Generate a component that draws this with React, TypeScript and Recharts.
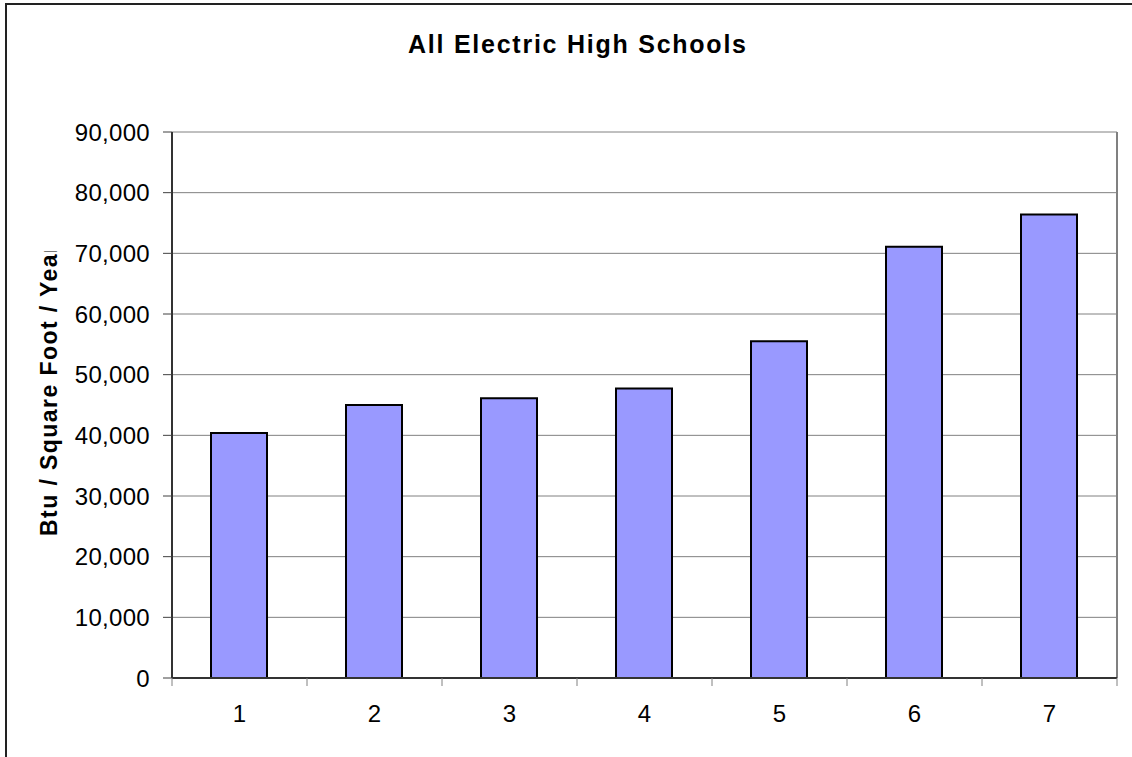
import React from 'react'
import { BarChart, Bar, XAxis, YAxis, CartesianGrid, ReferenceLine } from 'recharts'

const categories = ['1', '2', '3', '4', '5', '6', '7']
const energyUse = [40400, 45000, 46100, 47700, 55500, 71100, 76400]
const yTicks = [0, 10000, 20000, 30000, 40000, 50000, 60000, 70000, 80000, 90000]

const chartTitle = 'All Electric High Schools'
const yLabel = 'Btu / Square Foot / Year'

const FONT = "'Liberation Sans', Arial, sans-serif"

// bars sit at the middle of each unit slot, tick marks on the slot edges
const data = categories.map((c, i) => ({ pos: i + 0.5, label: c, value: energyUse[i] }))
const xTicks: number[] = []
for (let i = 0; i <= categories.length * 2; i++) xTicks.push(i / 2)

function XTick({ x, y, payload }: any) {
  const v = payload.value as number
  if (Number.isInteger(v)) {
    return <line x1={x} y1={y} x2={x} y2={y + 8} stroke="#808080" strokeWidth={1} />
  }
  return (
    <text x={x} y={y + 44} textAnchor="middle" fontFamily={FONT} fontSize={24} fill="#000">
      {categories[Math.floor(v)]}
    </text>
  )
}

function YTick({ x, y, payload }: any) {
  return (
    <text
      x={x}
      y={y}
      dy="0.36em"
      textAnchor="end"
      fontFamily={FONT}
      fontSize={24}
      letterSpacing={0.3}
      fill="#000"
    >
      {Number(payload.value).toLocaleString('en-US')}
    </text>
  )
}

// the label overruns its box in the original, so the last letter is cut off
function YLabel() {
  const cx = 57
  const cy = 390
  return (
    <g>
      <defs>
        <clipPath id="ylabel-clip">
          <rect x={0} y={251} width={120} height={400} />
        </clipPath>
      </defs>
      <g clipPath="url(#ylabel-clip)">
        <text
          x={cx}
          y={cy}
          transform={`rotate(-90, ${cx}, ${cy})`}
          textAnchor="middle"
          fontFamily={FONT}
          fontSize={23}
          fontWeight="bold"
          textLength={292}
          lengthAdjust="spacing"
          fill="#000"
        >
          {yLabel}
        </text>
      </g>
    </g>
  )
}

export default function App() {
  return (
    <div style={{ position: 'absolute', left: 0, top: 0, width: 1132, height: 757, overflow: 'hidden', background: '#fff' }}>
      <BarChart
        width={1132}
        height={757}
        data={data}
        margin={{ top: 132, right: 15, bottom: 0, left: 72 }}
      >
        <CartesianGrid vertical={false} stroke="#808080" strokeWidth={1} />
        <XAxis
          dataKey="pos"
          type="number"
          domain={[0, categories.length]}
          ticks={xTicks}
          interval={0}
          height={79}
          tickSize={0}
          tickMargin={0}
          tickLine={false}
          tick={<XTick />}
          axisLine={{ stroke: '#333', strokeWidth: 2 }}
        />
        <YAxis
          width={100}
          domain={[0, 90000]}
          ticks={yTicks}
          interval={0}
          tickSize={9}
          tickMargin={13}
          tickLine={{ stroke: '#404040' }}
          tick={<YTick />}
          axisLine={{ stroke: '#333', strokeWidth: 2 }}
          label={{ content: <YLabel /> }}
        />
        <ReferenceLine x={categories.length} stroke="#808080" strokeWidth={2} />
        <Bar dataKey="value" barSize={56} fill="#9999FF" stroke="#000" strokeWidth={2} isAnimationActive={false} />
      </BarChart>
      <svg
        width={1132}
        height={757}
        style={{ position: 'absolute', left: 0, top: 0, pointerEvents: 'none' }}
      >
        <rect x={6} y={4} width={1200} height={800} fill="none" stroke="#222" strokeWidth={2} />
        <text
          x={577}
          y={53}
          textAnchor="middle"
          fontFamily={FONT}
          fontSize={25}
          fontWeight="bold"
          textLength={338}
          lengthAdjust="spacing"
          fill="#000"
        >
          {chartTitle}
        </text>
      </svg>
    </div>
  )
}
